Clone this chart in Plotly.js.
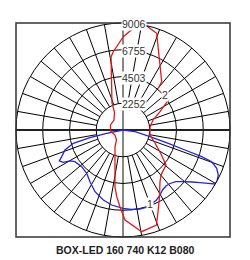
<!DOCTYPE html>
<html><head><meta charset="utf-8">
<script src="https://cdn.plot.ly/plotly-3.0.1.min.js"></script>
<style>html,body{margin:0;padding:0;background:#fff}#chart{width:250px;height:260px}</style>
</head><body><div id="chart"></div>
<script>
const chartTitle = 'BOX-LED 160 740 K12 B080';
const radialTicks = [2252, 4503, 6755, 9006];
const rMax = 9006;
const curveNames = ['1', '2'];
// angle in degrees: 0 = straight down, positive = towards the right
const curve1Theta = [-90, -78.6, -76.9, -75.0, -71.0, -66.5, -64.1, -61.6, -59.7, -56.6,
  -48.4, -40.0, -32.6, -24.4, -15.7, -8.6, 0, 5.8, 12.1, 16.5,
  19.8, 25.6, 29.7, 33.4, 37.5, 41.3, 45.7, 49.8, 53.0, 55.6,
  57.9, 59.6, 61.5, 64.7, 67.8, 70.3, 71.3, 72.1, 73.6, 76.1, 81.9, 90];
const curve1R = [0, 1400, 2852, 4331, 5164, 5628, 5963, 5715, 5168, 4841,
  4650, 4756, 5162, 5703, 6120, 6384, 6590, 6725, 6802, 6804,
  6709, 6532, 6295, 6046, 5943, 5994, 6232, 6719, 7272, 7854,
  8445, 8980, 9000, 8871, 8520, 7928, 6995, 5483, 3974, 2342, 1020, 0];
const curve2Theta = [123.5, 116.3, 108.4, 96.3, 79.5, 67.9, 57.7, 50.9, 40.2, 35.4,
  28.6, 23.1, 19.4, 10.4, 1.3, -2.2, -5.4, -8.0, -25.2, -33,
  -58, -85.4, -111.8, -138, -154.7, -157.8, -170.7, -172.9, 179.8, 174.2,
  173.5, 167.4, 160.8, 141.3, 139.75];
const curve2R = [4573, 3474, 2662, 2287, 2311, 2907, 3783, 4666, 4958, 5371,
  6422, 7504, 8478, 8703, 7577, 6486, 5639, 4845, 1581, 1004,
  794, 1055, 1133, 1132, 1675, 2454, 6227, 6641, 7853, 8604,
  8895, 8990, 8619, 5210, 4598];
const curveLabelTheta = [20.4, 129.8];
const curveLabelR = [6640, 4600];
const spokeStep = 10;

const FONT = 'Liberation Sans, Arial, sans-serif';

// spokes from the innermost circle to the outer circle
const spR = [], spT = [];
for (let a = 0; a < 360; a += spokeStep) {
  if (a % 90 === 0) continue;
  spR.push(radialTicks[0], rMax, null);
  spT.push(a, a, null);
}
const traces = [
  {type:'scatterpolar', mode:'lines', r:spR, theta:spT, line:{color:'#000', width:1}, hoverinfo:'skip', showlegend:false},
  {type:'scatterpolar', mode:'lines', r:[rMax,0,0,rMax], theta:[180,180,0,0], line:{color:'#111', width:1}, hoverinfo:'skip', showlegend:false},
  {type:'scatterpolar', mode:'lines', r:[rMax,0,0,rMax], theta:[90,90,270,270], line:{color:'#222', width:2}, hoverinfo:'skip', showlegend:false},
  {type:'scatterpolar', mode:'lines', name:curveNames[0], r:curve1R, theta:curve1Theta, line:{color:'rgb(35,35,225)', width:1.3}, showlegend:false},
  {type:'scatterpolar', mode:'lines', name:curveNames[1], r:curve2R, theta:curve2Theta, line:{color:'rgb(225,25,25)', width:1.3}, showlegend:false}
];

function polarToPaper(t, r) {
  const a = t * Math.PI / 180;
  return {x: 0.5 + 0.5 * (r / rMax) * Math.sin(a), y: 0.5 - 0.5 * (r / rMax) * Math.cos(a)};
}

const annotations = [];
radialTicks.forEach(v => {
  annotations.push({xref:'paper', yref:'paper', x:0.5, y:0.5 + 0.5 * v / rMax, xanchor:'left', yanchor:'middle',
    xshift:-2, yshift:-1, text:String(v), showarrow:false, bgcolor:'#fff', borderpad:0,
    font:{family:FONT, size:10.5, color:'#333'}});
});
curveNames.forEach((n, i) => {
  const p = polarToPaper(curveLabelTheta[i], curveLabelR[i]);
  annotations.push({xref:'paper', yref:'paper', x:p.x, y:p.y, xanchor:'center', yanchor:'middle',
    text:n, showarrow:false, bgcolor:'#fff', borderpad:0, font:{family:FONT, size:10.5, color:'#333'}});
});
annotations.push({xref:'paper', yref:'paper', x:0.51, y:-0.062, xanchor:'center', yanchor:'middle',
  text:'<b>' + chartTitle + '</b>', showarrow:false, font:{family:FONT, size:10.5, color:'#222'}});

const layout = {
  width:250, height:260,
  margin:{l:16, r:20, t:23, b:23, pad:0},
  paper_bgcolor:'#fff',
  showlegend:false,
  polar:{
    domain:{x:[0,1], y:[0,1]},
    bgcolor:'#fff',
    radialaxis:{range:[0, rMax], tickmode:'array', tickvals:radialTicks, showticklabels:false, ticks:'',
      showline:false, gridcolor:'#000', gridwidth:1},
    angularaxis:{rotation:-90, direction:'counterclockwise', showgrid:false, showticklabels:false, ticks:'',
      showline:true, linecolor:'#000', linewidth:1}
  },
  shapes:[{type:'rect', xref:'paper', yref:'paper', x0:0, x1:1, y0:0, y1:1, line:{color:'#333', width:1.5}}],
  annotations:annotations
};
Plotly.newPlot('chart', traces, layout, {displayModeBar:false, staticPlot:true});
</script></body></html>
